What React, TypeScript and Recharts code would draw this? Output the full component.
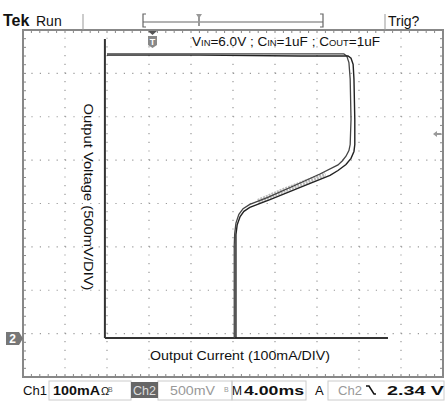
import React from 'react';
import { LineChart, Line, XAxis, YAxis, ReferenceLine } from 'recharts';

// scope screen: 10 x 8 divisions, values in divisions from lower-left of graticule
const gridX = [1, 2, 3, 4, 5, 6, 7, 8, 9];
const gridY = [1, 2, 3, 4, 5, 6, 7];

// hand-drawn axes of the plot (ground of ch2 sits a bit below 1 div)
const axisOrigin = { x: 1.95, y: 0.9 };
const axisTop = 7.79;
const axisRight = 8.69;

// Output voltage vs output current, two sweeps of the loop
const traceA = [
  { x: 2.0, y: 7.42 }, { x: 4.2, y: 7.42 }, { x: 6.6, y: 7.4 }, { x: 7.74, y: 7.4 },
  { x: 7.81, y: 7.35 }, { x: 7.86, y: 7.21 }, { x: 7.88, y: 6.87 }, { x: 7.9, y: 5.94 },
  { x: 7.9, y: 5.36 }, { x: 7.88, y: 5.2 }, { x: 7.81, y: 5.04 }, { x: 7.69, y: 4.9 },
  { x: 7.5, y: 4.76 }, { x: 7.31, y: 4.65 }, { x: 6.6, y: 4.37 }, { x: 5.88, y: 4.09 },
  { x: 5.4, y: 3.91 }, { x: 5.26, y: 3.82 }, { x: 5.17, y: 3.7 }, { x: 5.1, y: 3.51 },
  { x: 5.07, y: 3.28 }, { x: 5.07, y: 3.05 }, { x: 5.07, y: 2.01 }, { x: 5.07, y: 0.9 },
];
const traceB = [
  { x: 2.0, y: 7.45 }, { x: 4.2, y: 7.45 }, { x: 7.64, y: 7.45 }, { x: 7.71, y: 7.4 },
  { x: 7.76, y: 7.25 }, { x: 7.79, y: 6.87 }, { x: 7.81, y: 5.94 }, { x: 7.79, y: 5.36 },
  { x: 7.76, y: 5.22 }, { x: 7.69, y: 5.09 }, { x: 7.6, y: 4.98 }, { x: 7.5, y: 4.89 },
  { x: 7.07, y: 4.68 }, { x: 6.48, y: 4.42 }, { x: 5.83, y: 4.14 }, { x: 5.4, y: 3.98 },
  { x: 5.24, y: 3.88 }, { x: 5.14, y: 3.75 }, { x: 5.07, y: 3.55 }, { x: 5.04, y: 3.3 },
  { x: 5.03, y: 3.05 }, { x: 5.03, y: 0.9 },
];
// noisy band on the slope
const noise = [
  { x: 5.6, y: 4.05 }, { x: 6.2, y: 4.3 }, { x: 6.8, y: 4.52 }, { x: 7.2, y: 4.68 },
];

const W = 445;
const H = 401;
const L = 23, T = 30, R = 443, B = 377;
const FONT = '"Liberation Sans", Arial, sans-serif';

function FrameTicks() {
  const out: React.ReactNode[] = [];
  const dx = (R - L) / 50;
  const dy = (B - T) / 40;
  for (let i = 1; i < 50; i++) {
    const x = L + i * dx;
    out.push(<line key={'t' + i} x1={x} x2={x} y1={T} y2={T + 3} />);
    out.push(<line key={'b' + i} x1={x} x2={x} y1={B} y2={B - 3} />);
  }
  for (let i = 1; i < 40; i++) {
    const y = T + i * dy;
    out.push(<line key={'l' + i} x1={L} x2={L + 3} y1={y} y2={y} />);
    out.push(<line key={'r' + i} x1={R} x2={R - 3} y1={y} y2={y} />);
  }
  return <g stroke="#888" strokeWidth={1}>{out}</g>;
}

export default function App() {
  return (
    <div style={{ position: 'absolute', left: 0, top: 0, width: W, height: H, background: '#fff', fontFamily: FONT }}>
      <LineChart width={W} height={H} margin={{ top: T, right: W - R, bottom: H - B, left: L }}>
        <XAxis type="number" dataKey="x" domain={[0, 10]} hide allowDataOverflow />
        <YAxis type="number" domain={[0, 8]} hide allowDataOverflow />
        {gridX.map((v) => (
          <ReferenceLine key={'gx' + v} x={v} stroke="#999" strokeWidth={1.2} strokeDasharray="1.2 7.47" />
        ))}
        {gridY.map((v) => (
          <ReferenceLine key={'gy' + v} y={v} stroke="#999" strokeWidth={1.2} strokeDasharray="1.2 7.2" />
        ))}
        <ReferenceLine
          segment={[{ x: axisOrigin.x, y: axisOrigin.y }, { x: axisOrigin.x, y: axisTop }]}
          stroke="#333" strokeWidth={2}
        />
        <ReferenceLine
          segment={[{ x: axisOrigin.x, y: axisOrigin.y }, { x: axisRight, y: axisOrigin.y }]}
          stroke="#333" strokeWidth={2}
        />
        <Line data={noise} dataKey="y" type="linear" stroke="#bbb" strokeWidth={5} strokeDasharray="2 1" dot={false} isAnimationActive={false} />
        <Line data={traceB} dataKey="y" type="linear" stroke="#444" strokeWidth={1.3} dot={false} isAnimationActive={false} />
        <Line data={traceA} dataKey="y" type="linear" stroke="#222" strokeWidth={1.4} dot={false} isAnimationActive={false} />
      </LineChart>

      <svg width={W} height={H} style={{ position: 'absolute', left: 0, top: 0, pointerEvents: 'none' }} fontFamily={FONT}>
        {/* graticule frame */}
        <rect x={L} y={T} width={R - L} height={B - T} fill="none" stroke="#888" strokeWidth={2} />
        <FrameTicks />

        {/* header */}
        <text x={3} y={26} fontSize={16} fontWeight="bold" fill="#111">Tek</text>
        <text x={36} y={26} fontSize={14} fill="#111">Run</text>
        <line x1={83} x2={83} y1={14} y2={30} stroke="#999" />
        <line x1={385} x2={385} y1={14} y2={30} stroke="#999" />
        <path d="M146,14 H143 V27 H146 M320,14 H323 V27 H320 M143,22 H323" fill="none" stroke="#666" strokeWidth={1.2} />
        <path d="M196,14 H202 L200,17 V26 H198 V17 Z" fill="#999" />
        <text x={388} y={26} fontSize={14} fill="#111">Trig?</text>

        {/* trigger marker */}
        <path d="M148,31 H157 L152.5,35 Z" fill="#555" />
        <path d="M148,36 H157 V45 L152.5,48 L148,45 Z" fill="#888" />
        <text x={152.5} y={45} fontSize={9} fontWeight="bold" fill="#fff" textAnchor="middle">T</text>

        {/* conditions */}
        <text x={192} y={46} fontSize={13} fill="#111" textLength={188} lengthAdjust="spacingAndGlyphs">
          V<tspan fontSize={9}>IN</tspan>=6.0V ; C<tspan fontSize={9}>IN</tspan>=1uF ; C<tspan fontSize={9}>OUT</tspan>=1uF
        </text>

        {/* axis titles */}
        <text transform="translate(84,197) rotate(90)" fontSize={13} fill="#111" textAnchor="middle" textLength={187} lengthAdjust="spacingAndGlyphs">
          Output Voltage (500mV/DIV)
        </text>
        <text x={240} y={360} fontSize={13} fill="#111" textAnchor="middle" textLength={180} lengthAdjust="spacingAndGlyphs">
          Output Current (100mA/DIV)
        </text>

        {/* level arrow, ch2 ground marker */}
        <path d="M433,134 L437,131 V133 H441 V135 H437 V137 Z" fill="#999" />
        <rect x={6} y={332} width={13} height={13} fill="#777" />
        <path d="M19,332 L23,338.5 L19,345 Z" fill="#777" />
        <text x={12.5} y={343} fontSize={12} fontWeight="bold" fill="#fff" textAnchor="middle">2</text>

        {/* status bar */}
        <g fontSize={13} fill="#111">
          <rect x={49} y={381} width={82} height={19} fill="none" stroke="#ccc" />
          <rect x={158} y={381} width={74} height={19} fill="none" stroke="#ccc" />
          <rect x={232} y={381} width={74} height={19} fill="none" stroke="#ccc" />
          <rect x={328} y={381} width={116} height={19} fill="none" stroke="#ccc" />
          <text x={23} y={395} textLength={24} lengthAdjust="spacingAndGlyphs">Ch1</text>
          <text x={53} y={395} fontWeight="bold" textLength={47} lengthAdjust="spacingAndGlyphs">100mA</text>
          <text x={101} y={395} fontSize={11}>Ω</text>
          <text x={108} y={392} fontSize={7} fill="#666">B</text>
          <rect x={131} y={382} width={27} height={16} fill="#666" />
          <text x={133} y={395} fill="#ddd" textLength={23} lengthAdjust="spacingAndGlyphs">Ch2</text>
          <text x={170} y={395} fill="#999" textLength={45} lengthAdjust="spacingAndGlyphs">500mV</text>
          <text x={224} y={392} fontSize={7} fill="#999">B</text>
          <text x={232} y={395} fontSize={12} textLength={10} lengthAdjust="spacingAndGlyphs">M</text>
          <text x={244} y={395} fontWeight="bold" textLength={60} lengthAdjust="spacingAndGlyphs">4.00ms</text>
          <text x={315} y={395}>A</text>
          <text x={338} y={395} fill="#999" textLength={24} lengthAdjust="spacingAndGlyphs">Ch2</text>
          <path d="M366,386 H369 L374,394 H376" fill="none" stroke="#111" strokeWidth={1.5} />
          <text x={387} y={395} fontWeight="bold" textLength={57} lengthAdjust="spacingAndGlyphs">2.34 V</text>
        </g>
      </svg>
    </div>
  );
}
